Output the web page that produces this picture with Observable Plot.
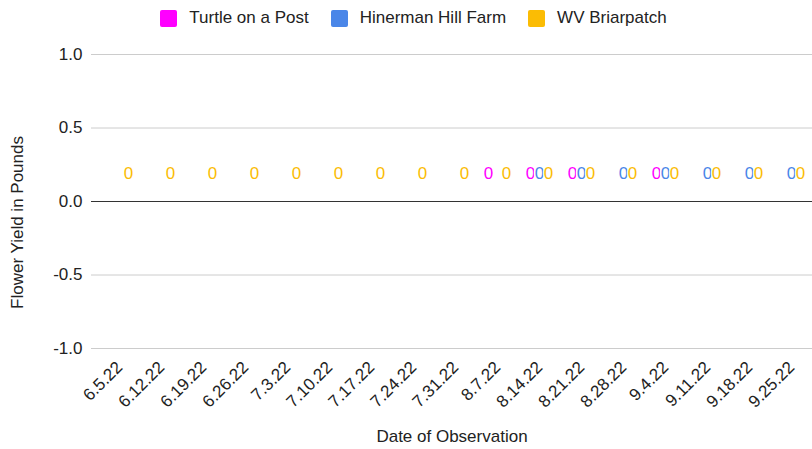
<!DOCTYPE html>
<html>
<head>
<meta charset="utf-8">
<script src="https://cdn.jsdelivr.net/npm/d3@7"></script>
<script src="https://cdn.jsdelivr.net/npm/@observablehq/plot@0.6"></script>
<style>
  body { margin: 0; background: #fff; font-family: "Liberation Sans", Arial, sans-serif; }
  #legend { height: 36px; display: flex; justify-content: center; align-items: center; padding-left: 15px; box-sizing: border-box; font-size: 17px; color: #222; }
  .item { display: flex; align-items: center; margin: 0 11px; }
  .sw { width: 17px; height: 17px; border-radius: 2px; margin-right: 12px; }
</style>
</head>
<body>
<div id="legend"></div>
<div id="chart"></div>
<script>
const dates = ["6.5.22","6.12.22","6.19.22","6.26.22","7.3.22","7.10.22","7.17.22","7.24.22","7.31.22","8.7.22","8.14.22","8.21.22","8.28.22","9.4.22","9.11.22","9.18.22","9.25.22"];
const seriesNames = ["Turtle on a Post", "Hinerman Hill Farm", "WV Briarpatch"];
const seriesColors = ["#ff00ff", "#4a86e8", "#fbbc04"];
const turtleOnAPost    = [null,null,null,null,null,null,null,null,null,0,0,0,null,0,null,null,null];
const hinermanHillFarm = [null,null,null,null,null,null,null,null,null,null,0,0,0,0,0,0,0];
const wvBriarpatch     = [0,0,0,0,0,0,0,0,0,0,0,0,0,0,0,0,0];
const yTicks = [-1, -0.5, 0, 0.5, 1];
const yTitle = "Flower Yield in Pounds";
const xTitle = "Date of Observation";

const seriesValues = [turtleOnAPost, hinermanHillFarm, wvBriarpatch];
const rows = [];
seriesValues.forEach((vals, s) => vals.forEach((v, i) => {
  if (v !== null) rows.push({date: dates[i], series: seriesNames[s], value: v});
}));

// legend
const legend = document.getElementById("legend");
seriesNames.forEach((n, i) => {
  const it = document.createElement("div"); it.className = "item";
  const sw = document.createElement("div"); sw.className = "sw"; sw.style.background = seriesColors[i];
  const tx = document.createElement("span"); tx.textContent = n;
  it.appendChild(sw); it.appendChild(tx); legend.appendChild(it);
});

const groupOffsets = [-9, 0, 9];
const labelMarks = seriesNames.map((n, i) =>
  Plot.text(rows.filter(d => d.series === n), {
    x: "date", y: "value", text: d => String(d.value), fill: "series",
    dx: groupOffsets[i], dy: -28, fontSize: 17, stroke: "white", strokeWidth: 3, paintOrder: "stroke"
  })
);

const chart = Plot.plot({
  width: 812,
  height: 413,
  marginTop: 18,
  marginBottom: 101,
  marginLeft: 91,
  marginRight: 0,
  style: { fontFamily: "'Liberation Sans', Arial, sans-serif", fontSize: "17px", color: "#222", background: "#fff" },
  x: { type: "band", domain: dates, padding: 0, insetLeft: 7, tickSize: 0, tickRotate: -45, tickPadding: 16, label: null },
  y: { domain: [-1, 1], ticks: yTicks, tickFormat: d => d.toFixed(1), tickSize: 0, tickPadding: 9, label: null },
  color: { domain: seriesNames, range: seriesColors },
  marks: [
    Plot.ruleY(yTicks.filter(d => d !== 0), { stroke: "#cccccc" }),
    Plot.ruleY([0], { stroke: "#333333" }),
    ...labelMarks,
    Plot.text([yTitle], { frameAnchor: "left", textAnchor: "middle", lineAnchor: "middle", rotate: -90, dx: -74, dy: 21, fontSize: 17, fill: "#222" }),
    Plot.text([xTitle], { frameAnchor: "bottom", textAnchor: "middle", lineAnchor: "middle", dy: 88, fontSize: 17, fill: "#222" })
  ]
});
document.getElementById("chart").appendChild(chart);
</script>
</body>
</html>
